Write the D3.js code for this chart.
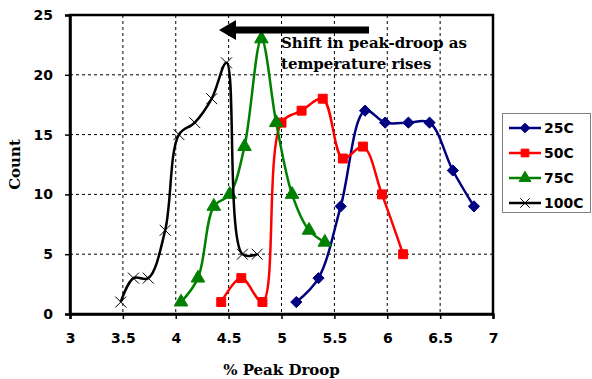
<!DOCTYPE html>
<html>
<head>
<meta charset="utf-8">
<script src="https://cdn.jsdelivr.net/npm/d3@7"></script>
<style>
  body { margin: 0; background: #fff; }
  svg { display: block; }
  .tick text { font-family: "DejaVu Sans", sans-serif; font-weight: bold; font-size: 14px; fill: #000; }
  .serif { font-family: "DejaVu Serif", serif; font-weight: bold; }
</style>
</head>
<body>
<div id="chart"></div>
<script>
// values: [% peak droop, count]
const seriesNames = ["25C", "50C", "75C", "100C"];
const s25 = [[5.14, 1], [5.35, 3], [5.56, 9], [5.79, 17], [5.98, 16], [6.2, 16], [6.4, 16], [6.62, 12], [6.82, 9]];
const s50 = [[4.43, 1], [4.62, 3], [4.82, 1], [5.0, 16], [5.19, 17], [5.39, 18], [5.58, 13], [5.77, 14], [5.95, 10], [6.15, 5]];
const s75 = [[4.05, 1], [4.21, 3], [4.36, 9], [4.51, 10], [4.65, 14], [4.81, 23], [4.95, 16], [5.1, 10], [5.26, 7], [5.41, 6]];
const s100 = [[3.48, 1], [3.6, 3], [3.74, 3], [3.9, 7], [4.03, 15], [4.18, 16], [4.34, 18], [4.48, 21], [4.63, 5], [4.77, 5]];
const xTicks = [3, 3.5, 4, 4.5, 5, 5.5, 6, 6.5, 7];
const yTicks = [0, 5, 10, 15, 20, 25];
const colors = ["#000080", "#ff0000", "#008000", "#000000"];
const symbols = [d3.symbolDiamond2, d3.symbolSquare, d3.symbolTriangle, d3.symbolX];

const width = 592, height = 379;
const margin = { top: 15, right: 99, bottom: 65, left: 70 };

const svg = d3.select("#chart").append("svg")
  .attr("width", width).attr("height", height);

const x = d3.scaleLinear().domain([3, 7]).range([margin.left, width - margin.right]);
const y = d3.scaleLinear().domain([0, 25]).range([height - margin.bottom, margin.top]);

// dashed grid
svg.append("g")
  .selectAll("line.vg")
  .data(xTicks.slice(1, -1))
  .join("line")
  .attr("x1", d => x(d)).attr("x2", d => x(d))
  .attr("y1", y(25)).attr("y2", y(0))
  .attr("stroke", "#000").attr("stroke-width", 1).attr("stroke-dasharray", "3,3");
svg.append("g")
  .selectAll("line.hg")
  .data(yTicks.slice(1, -1))
  .join("line")
  .attr("x1", x(3)).attr("x2", x(7))
  .attr("y1", d => y(d)).attr("y2", d => y(d))
  .attr("stroke", "#000").attr("stroke-width", 1).attr("stroke-dasharray", "3,3");

// frame
svg.append("rect")
  .attr("x", x(3)).attr("y", y(25))
  .attr("width", x(7) - x(3)).attr("height", y(0) - y(25))
  .attr("fill", "none").attr("stroke", "#000").attr("stroke-width", 2.5);

// axes
const xAxis = svg.append("g")
  .attr("transform", `translate(0,${y(0)})`)
  .call(d3.axisBottom(x).tickValues(xTicks).tickFormat(d3.format("")).tickSize(5).tickPadding(14));
const yAxis = svg.append("g")
  .attr("transform", `translate(${x(3)},0)`)
  .call(d3.axisLeft(y).tickValues(yTicks).tickSize(5).tickPadding(12));
[xAxis, yAxis].forEach(a => {
  a.select(".domain").attr("stroke", "#000").attr("stroke-width", 2.5);
  a.selectAll(".tick line").attr("stroke", "#000").attr("stroke-width", 1.5);
});

// series
const allSeries = [s25, s50, s75, s100];
const line = d3.line().x(d => x(d[0])).y(d => y(d[1])).curve(d3.curveCatmullRom.alpha(0.5));

allSeries.forEach((data, i) => {
  const g = svg.append("g");
  g.append("path")
    .datum(data)
    .attr("d", line)
    .attr("fill", "none")
    .attr("stroke", colors[i])
    .attr("stroke-width", 2.5);
  g.selectAll("path.pt")
    .data(data)
    .join("path")
    .attr("class", "pt")
    .attr("transform", d => `translate(${x(d[0])},${y(d[1])})`)
    .attr("d", d3.symbol().type(symbols[i]).size(i === 3 ? 80 : 80))
    .attr("fill", i === 3 ? "none" : colors[i])
    .attr("stroke", colors[i])
    .attr("stroke-width", 1);
});

// annotation arrow
const arrow = svg.append("g");
arrow.append("rect")
  .attr("x", 233).attr("y", 26.5).attr("width", 136).attr("height", 7)
  .attr("fill", "#000");
arrow.append("path")
  .attr("d", "M219,30 L236,20 L236,40 Z")
  .attr("fill", "#000");
const note = svg.append("text").attr("class", "serif")
  .attr("font-size", 15).attr("fill", "#000");
note.append("tspan").attr("x", 281).attr("y", 48).text("Shift in peak-droop as");
note.append("tspan").attr("x", 281).attr("y", 69).text("temperature rises");

// axis titles
svg.append("text").attr("class", "serif")
  .attr("x", x(5)).attr("y", 375)
  .attr("text-anchor", "middle").attr("font-size", 15)
  .text("% Peak Droop");
svg.append("text").attr("class", "serif")
  .attr("transform", `translate(20,${(y(0) + y(25)) / 2}) rotate(-90)`)
  .attr("text-anchor", "middle").attr("font-size", 15)
  .text("Count");

// legend
const legend = svg.append("g");
legend.append("rect")
  .attr("x", 502.5).attr("y", 113.5).attr("width", 88).attr("height", 99)
  .attr("fill", "#fff").attr("stroke", "#808080").attr("stroke-width", 1);
seriesNames.forEach((name, i) => {
  const ly = 128 + i * 25;
  legend.append("line")
    .attr("x1", 509).attr("x2", 541).attr("y1", ly).attr("y2", ly)
    .attr("stroke", colors[i]).attr("stroke-width", 2.5);
  legend.append("path")
    .attr("transform", `translate(525,${ly})`)
    .attr("d", d3.symbol().type(symbols[i]).size(60))
    .attr("fill", i === 3 ? "none" : colors[i])
    .attr("stroke", colors[i]).attr("stroke-width", 1);
  legend.append("text")
    .attr("x", 544).attr("y", ly + 5)
    .attr("font-family", "DejaVu Sans, sans-serif").attr("font-weight", "bold")
    .attr("font-size", 14)
    .text(name);
});
</script>
</body>
</html>
